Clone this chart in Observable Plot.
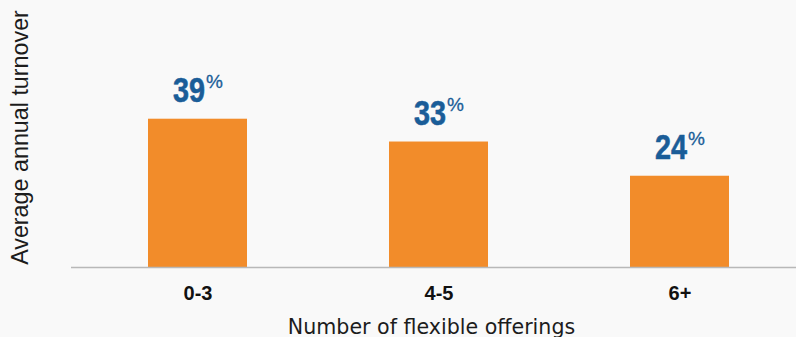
<!DOCTYPE html>
<html><head><meta charset="utf-8">
<script src="https://cdn.jsdelivr.net/npm/d3@7"></script>
<script src="https://cdn.jsdelivr.net/npm/@observablehq/plot@0.6"></script>
<style>
html,body{margin:0;padding:0;background:#f9f9f9;overflow:hidden;}
</style></head><body><div id="chart"></div>
<script>
const offerings = ["0-3", "4-5", "6+"];
const turnover = [39, 33, 24];
const xTitle = "Number of flexible offerings";
const yTitle = "Average annual turnover";
const data = offerings.map((o, i) => ({offerings: o, turnover: turnover[i]}));

const chart = Plot.plot({
  width: 796, height: 337,
  marginLeft: 71, marginRight: 0, marginTop: 13, marginBottom: 70,
  style: {background: "#f9f9f9", overflow: "visible"},
  x: {domain: offerings, range: [77, 800], paddingInner: 0.589, paddingOuter: 0.2945, align: 0.5, axis: null},
  y: {domain: [0, 66.8], axis: null},
  marks: [
    Plot.barY(data, {x: "offerings", y: "turnover", fill: "#f28c2a"}),
    Plot.ruleY([0], {stroke: "#b8b8b8", strokeWidth: 1.5}),
    Plot.text(data, {x: "offerings", y: "turnover", text: d => String(d.turnover), className: "num",
      textAnchor: "end", lineAnchor: "bottom", dx: 7, dy: -17,
      fontFamily: "'Liberation Sans', sans-serif", fontWeight: "bold", fontSize: 36, fill: "#1a5d98",
      stroke: "#1a5d98", strokeWidth: 0.6}),
    Plot.text(data, {x: "offerings", y: "turnover", text: d => "%",
      textAnchor: "start", lineAnchor: "bottom", dx: 8, dy: -31,
      fontFamily: "'Liberation Sans', sans-serif", fontSize: 19, fill: "#1a5d98",
      stroke: "#1a5d98", strokeWidth: 0.3}),
    Plot.text(data, {x: "offerings", text: "offerings", frameAnchor: "bottom", lineAnchor: "bottom", dy: 32,
      fontFamily: "'Liberation Sans', sans-serif", fontWeight: "bold", fontSize: 20, fill: "#111"}),
    Plot.text([xTitle], {text: d => d, frameAnchor: "bottom", lineAnchor: "bottom", dy: 66, dx: -2.5,
      fontFamily: "'DejaVu Sans', sans-serif", fontSize: 20.6, fill: "#1c1c1c"}),
    Plot.text([yTitle], {text: d => d, frameAnchor: "left", textAnchor: "middle", rotate: -90, lineAnchor: "bottom", dx: -44, dy: -3,
      fontFamily: "'Liberation Sans', sans-serif", fontSize: 23.3, fill: "#1c1c1c"})
  ]
});
d3.select(chart).selectAll(".num text").each(function() {
  const t = this.getAttribute("transform") || "";
  const x = +this.getAttribute("x") || 0;
  const y = +this.getAttribute("y") || 0;
  this.removeAttribute("x");
  this.removeAttribute("y");
  this.setAttribute("transform", `${t} translate(${x},${y}) scale(0.8,1)`);
});
document.getElementById("chart").appendChild(chart);
</script></body></html>
